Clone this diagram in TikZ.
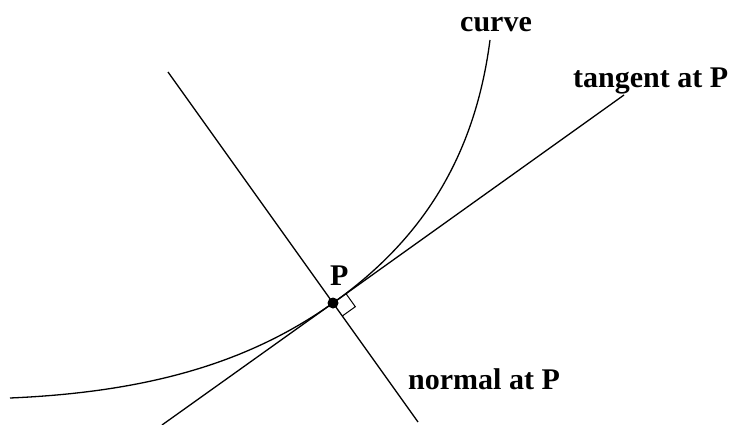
\documentclass[tikz,border=0pt]{standalone}
\usepackage{fontspec}
\setmainfont{Liberation Serif}
\usepackage{tikz}
\usetikzlibrary{calc}

\tikzset{
  lbl/.style={font=\bfseries\fontsize{30}{30}\selectfont, inner sep=0pt, anchor=base west},
  ln/.style={line width=1.3pt},
}

\begin{document}
\begin{tikzpicture}[x=1pt, y=-1pt]
\useasboundingbox (0,0) rectangle (738,425);
% The point P
\coordinate (P) at (333,303);

% Tangent and normal
\draw[ln] (162,425) coordinate (tA) -- (P) -- (624,95) coordinate (tB);
\draw[ln] (168,72) coordinate (nA) -- (P) -- (418,422) coordinate (nB);

% Curve
\draw[ln] (10,398) .. controls (150,392) and (250,362) .. (P)
    .. controls (416,244) and (474,164) .. (490,40) coordinate (cE);

% Right angle mark
\draw[line width=1pt] ($(P)!16pt!(tB)$) -- ++($(P)!16pt!(nB)-(P)$) -- ($(P)!16pt!(nB)$);

\fill (P) circle (5.5pt);

% Labels
\node[lbl] (pl) at (330,285) {P};
\node[lbl] (cl) at (460,32) {curve};
\node[lbl] (tl) at (573,88) {tangent at P};
\node[lbl] (nl) at (408,389) {normal at P};
\end{tikzpicture}
\end{document}
